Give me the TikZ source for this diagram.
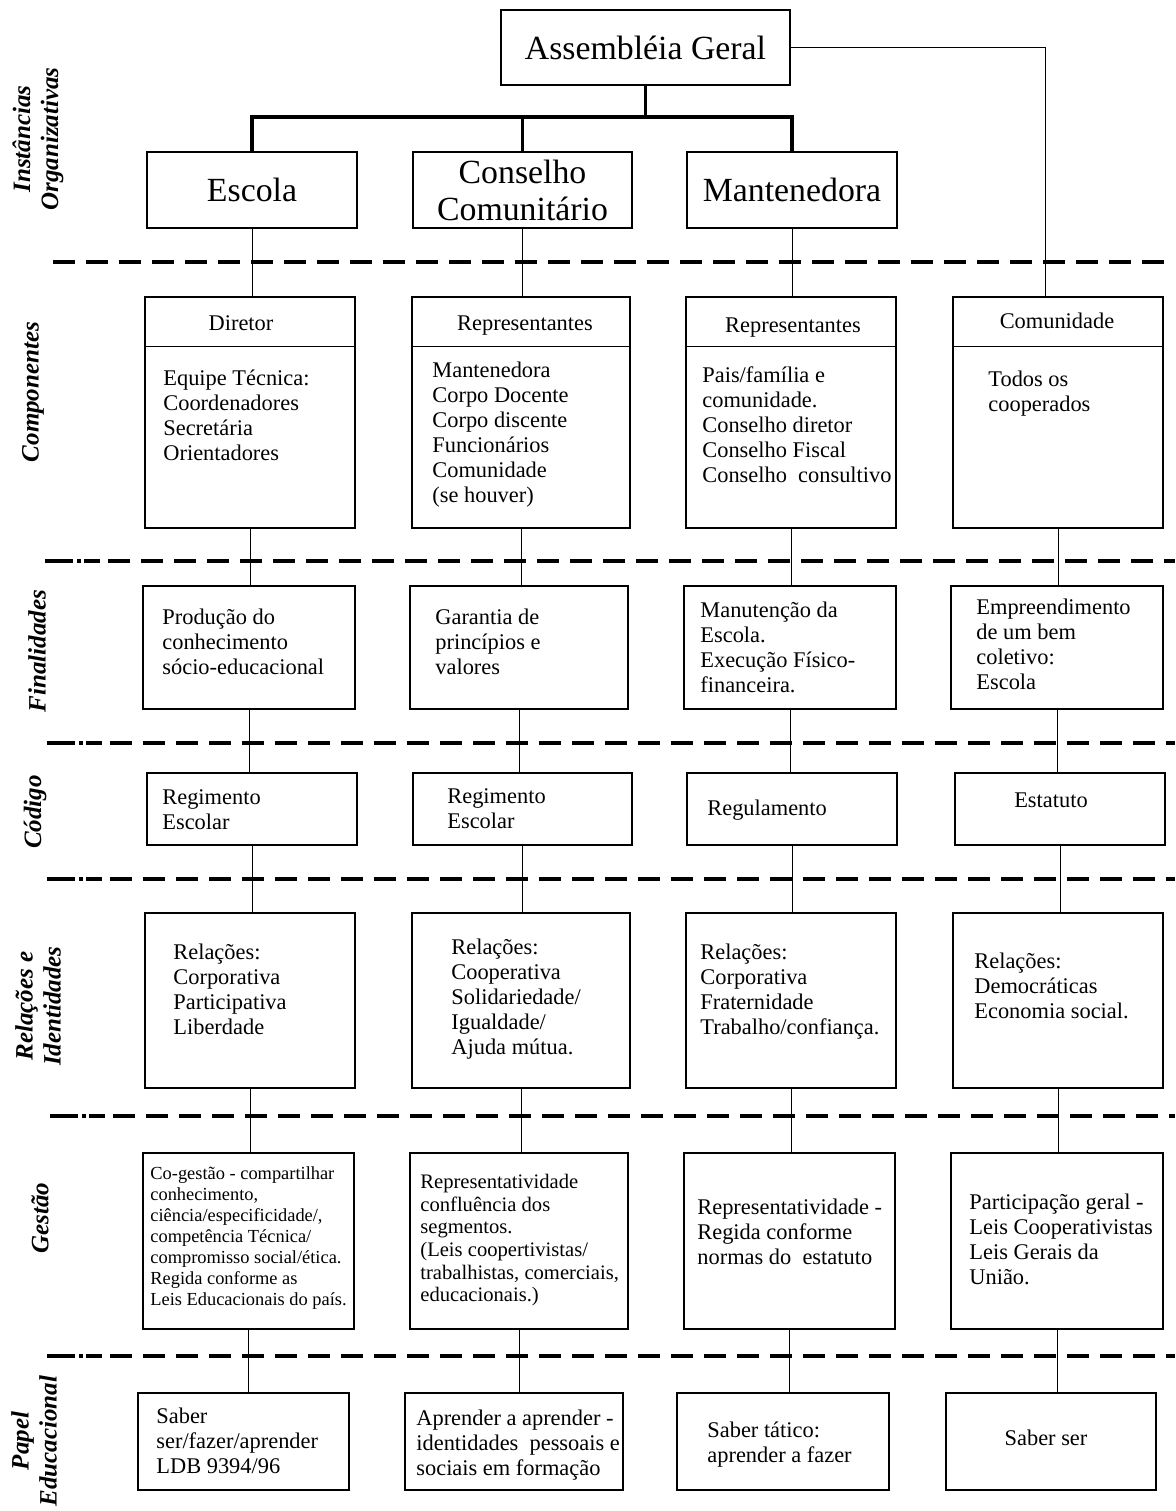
\documentclass[tikz,border=0pt]{standalone}
\usepackage{fontspec}
\setmainfont{Liberation Serif}
\usetikzlibrary{fit}

\begin{document}
\begin{tikzpicture}[x=0.5pt, y=-0.5pt,
    box/.style={draw, line width=0.6pt, inner sep=0pt, fit={#1}},
    txt/.style={anchor=north west, inner sep=0pt, align=left, font=\fontsize{11.2}{12.5}\selectfont},
    hdr/.style={inner sep=0pt, text height=8pt, text depth=2.5pt, font=\fontsize{11.2}{12.5}\selectfont},
    big/.style={inner sep=0pt, align=center, font=\fontsize{16.9}{18.5}\selectfont},
    side/.style={rotate=90, inner sep=0pt, align=center, font=\fontsize{12.5}{14}\bfseries\itshape\selectfont},
    bus/.style={line width=1.8pt},
    link/.style={line width=0.5pt},
    sep/.style={line width=2.2pt, dash pattern=on 11pt off 5.5pt}]

        % Page size
        \useasboundingbox (0,0) rectangle (1175,1511);

        % Separators between the levels
        \draw[sep] (53,262) -- (1175,262);
        \foreach \y/\x in {561/45, 743/47, 879/47, 1116/50, 1356/47}
        {
          \draw[sep, dash pattern=on 14pt off 2pt on 2pt off 1.5pt on 8pt off 20pt] (\x,\y) -- (\x+55,\y);
          \draw[sep] (\x+63,\y) -- (1175,\y);
        }

        % Level names on the left
        \node[side] (l1) at (38,139) {Instâncias\\Organizativas};
        \node[side] (l2) at (33,392) {Componentes};
        \node[side] (l3) at (37,651) {Finalidades};
        \node[side] (l4) at (35,812) {Código};
        \node[side] (l5) at (38,1006) {Relações e\\Identidades};
        \node[side] (l6) at (40,1218) {Gestão};
        \node[side] (l7) at (34,1441) {Papel\\Educacional};

        % Instances
        \node[box={(501,10)(790,85)}] (ag) {};
        \node[box={(147,152)(357,228)}] (esc) {};
        \node[box={(413,152)(632,228)}] (con) {};
        \node[box={(687,152)(897,228)}] (man) {};
        \node[big] (ag-t) at (ag) {Assembléia Geral};
        \node[big] (esc-t) at (esc) {Escola};
        \node[big] (con-t) at (con) {Conselho\\Comunitário};
        \node[big] (man-t) at (man) {Mantenedora};

        \coordinate (busy) at (0,117);
        \draw[bus] (ag.south) -- (ag.south |- busy);
        \draw[bus] (esc.north) -- (esc.north |- busy) -| (man.north);
        \draw[bus] (con.north) -- (con.north |- busy);

        % Components
        \coordinate (hdry) at (0,346);
        \node[box={(145,297)(355,528)}] (dir) {};
        \node[box={(412,297)(630,528)}] (repc) {};
        \node[box={(686,297)(896,528)}] (repm) {};
        \node[box={(953,297)(1163,528)}] (comu) {};
        \foreach \b in {dir, repc, repm, comu}
          \draw[link] (\b.west |- hdry) -- (\b.east |- hdry);

        \node[hdr] (dir-h) at (241,325) {Diretor};
        \node[hdr] (repc-h) at (525,325) {Representantes};
        \node[hdr] (repm-h) at (793,327) {Representantes};
        \node[hdr] (comu-h) at (1057,323) {Comunidade};

        \node[txt] (dir-t) at (163,370) {Equipe Técnica:\\Coordenadores\\Secretária\\Orientadores};
        \node[txt] (repc-t) at (432,362) {Mantenedora\\Corpo Docente\\Corpo discente\\Funcionários\\Comunidade\\(se houver)};
        \node[txt] (repm-t) at (702,366) {Pais/família e\\comunidade.\\Conselho diretor\\Conselho Fiscal\\Conselho~ consultivo};
        \node[txt] (comu-t) at (988,371) {Todos os\\cooperados};

        \draw[link] (ag.east) -| ([xshift=-6.5pt]comu.north);

        % Aims
        \node[box={(143,586)(355,709)}] (fin1) {};
        \node[box={(410,586)(628,709)}] (fin2) {};
        \node[box={(684,586)(896,709)}] (fin3) {};
        \node[box={(951,586)(1163,709)}] (fin4) {};
        \node[txt] (fin1-t) at (162,609) {Produção do\\conhecimento\\sócio-educacional};
        \node[txt] (fin2-t) at (435,609) {Garantia de\\princípios e\\valores};
        \node[txt] (fin3-t) at (700,602) {Manutenção da\\Escola.\\Execução Físico-\\financeira.};
        \node[txt] (fin4-t) at (976,599) {Empreendimento\\de um bem\\coletivo:\\Escola};

        % Codes
        \node[box={(147,773)(357,845)}] (cod1) {};
        \node[box={(413,773)(632,845)}] (cod2) {};
        \node[box={(687,773)(897,845)}] (cod3) {};
        \node[box={(955,773)(1165,845)}] (cod4) {};
        \node[txt] (cod1-t) at (162,789) {Regimento\\Escolar};
        \node[txt] (cod2-t) at (447,788) {Regimento\\Escolar};
        \node[txt] (cod3-t) at (707,800) {Regulamento};
        \node[hdr] (cod4-t) at (1051,802) {Estatuto};

        % Relations
        \node[box={(145,913)(355,1088)}] (rel1) {};
        \node[box={(412,913)(630,1088)}] (rel2) {};
        \node[box={(686,913)(896,1088)}] (rel3) {};
        \node[box={(953,913)(1163,1088)}] (rel4) {};
        \node[txt] (rel1-t) at (173,944) {Relações:\\Corporativa\\Participativa\\Liberdade};
        \node[txt] (rel2-t) at (451,939) {Relações:\\Cooperativa\\Solidariedade/\\Igualdade/\\Ajuda mútua.};
        \node[txt] (rel3-t) at (700,944) {Relações:\\Corporativa\\Fraternidade\\Trabalho/confiança.};
        \node[txt] (rel4-t) at (974,953) {Relações:\\Democráticas\\Economia social.};

        % Management
        \node[box={(143,1153)(354,1329)}] (ges1) {};
        \node[box={(410,1153)(628,1329)}] (ges2) {};
        \node[box={(684,1153)(895,1329)}] (ges3) {};
        \node[box={(951,1153)(1163,1329)}] (ges4) {};
        \node[txt, font=\fontsize{9.2}{10.5}\selectfont] (ges1-t) at (150,1166) {Co-gestão - compartilhar\\conhecimento,\\ciência/especificidade/,\\competência Técnica/\\compromisso social/ética.\\Regida conforme as\\Leis Educacionais do país.};
        \node[txt, font=\fontsize{10.3}{11.3}\selectfont] (ges2-t) at (420,1174) {Representatividade\\confluência dos\\segmentos.\\(Leis coopertivistas/\\trabalhistas, comerciais,\\educacionais.)};
        \node[txt] (ges3-t) at (697,1199) {Representatividade -\\Regida conforme\\normas do~ estatuto};
        \node[txt] (ges4-t) at (969,1194) {Participação geral -\\Leis Cooperativistas\\Leis Gerais da\\União.};

        % Educational role
        \node[box={(138,1393)(349,1490)}] (pap1) {};
        \node[box={(405,1393)(623,1490)}] (pap2) {};
        \node[box={(677,1393)(889,1490)}] (pap3) {};
        \node[box={(946,1393)(1156,1490)}] (pap4) {};
        \node[txt] (pap1-t) at (156,1408) {Saber\\ser/fazer/aprender\\LDB 9394/96};
        \node[txt] (pap2-t) at (416,1410) {Aprender a aprender -\\identidades~ pessoais e\\sociais em formação};
        \node[txt] (pap3-t) at (707,1422) {Saber tático:\\aprender a fazer};
        \node[hdr] (pap4-t) at (1046,1440) {Saber ser};

        % Vertical links down each column
        \foreach \a/\b in {esc/dir, con/repc, man/repm,
                           dir/fin1, repc/fin2, repm/fin3, comu/fin4,
                           fin1/cod1, fin2/cod2, fin3/cod3, fin4/cod4,
                           cod1/rel1, cod2/rel2, cod3/rel3, cod4/rel4,
                           rel1/ges1, rel2/ges2, rel3/ges3, rel4/ges4,
                           ges1/pap1, ges2/pap2, ges3/pap3, ges4/pap4}
          \draw[link] (\a.south) -- (\a.south |- \b.north);
      \end{tikzpicture}
\end{document}
